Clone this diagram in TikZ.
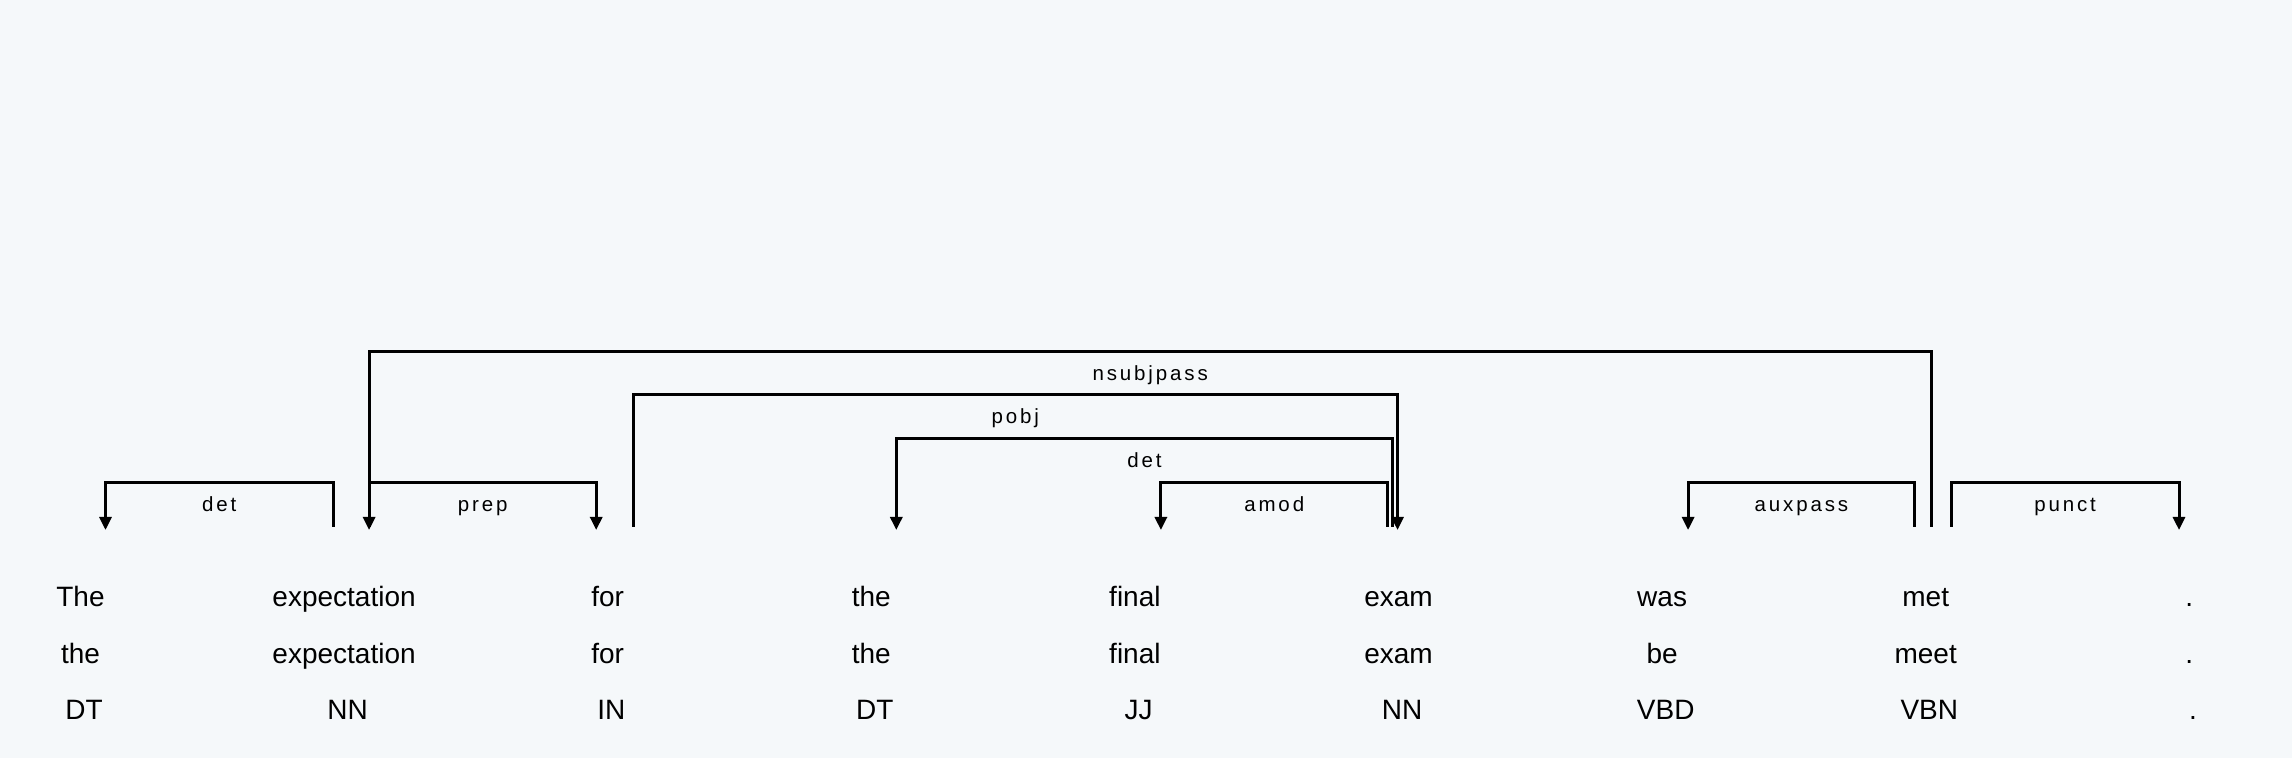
\documentclass[tikz,border=0pt]{standalone}
\usepackage{fontspec}
\setmainfont{Liberation Sans}
\newfontfamily\lblfont{Liberation Sans}[LetterSpace=14]
\usetikzlibrary{arrows.meta,calc}
\definecolor{bgcol}{RGB}{245,248,250}
\newcommand\mydeparc[7]{%
  \coordinate (s#7) at ($(#1.base)+(#2,-80)$);
  \coordinate (e#7) at ($(#3.base)+(#4,-76.7)$);
  \draw[dep,arr] (s#7) -- (s#7 |- 0,#5) -- node[lbl]{#6} (e#7 |- 0,#5) -- (e#7);
}
\begin{document}
\begin{tikzpicture}[x=0.5pt,y=-0.5pt,
  word/.style={anchor=base,inner sep=0pt,font=\fontsize{14}{16}\selectfont},
  dep/.style={line width=1.5pt,line join=miter,line cap=butt},
  arr/.style={-{Triangle[width=6pt,length=6.5pt]}},
  lbl/.style={anchor=base,inner sep=0pt,yshift=-14.5pt,font=\lblfont\fontsize{10.25}{12}\selectfont}]
\fill[bgcol] (0,0) rectangle (2292,758);
\useasboundingbox (0,0) rectangle (2292,758);
\foreach \i/\a/\b/\c in {0/The/the/DT,1/expectation/expectation/NN,2/for/for/IN,3/the/the/DT,4/final/final/JJ,5/exam/exam/NN,6/was/be/VBD,7/met/meet/VBN,8/./././}{
  \node[word] (w\i) at (80.5+263.6*\i,606.7) {\a};
  \node[word] (l\i) at (80.5+263.6*\i,663.3) {\b};
  \node[word] (t\i) at (84.1+263.6*\i,719.3) {\c};
}
\mydeparc{w1}{-11}{w0}{25}{483}{det}{a}
\mydeparc{w1}{25}{w2}{-11.5}{483}{prep}{b}
\mydeparc{w7}{5.5}{w1}{25}{351.2}{nsubjpass}{c}
\mydeparc{w2}{25.3}{w5}{-1}{395}{pobj}{d}
\mydeparc{w5}{-6}{w3}{25}{439}{det}{e}
\mydeparc{w5}{-11}{w4}{26}{483}{amod}{f}
\mydeparc{w7}{-11}{w6}{26}{483}{auxpass}{g}
\mydeparc{w7}{25.5}{w8}{-10.3}{483}{punct}{h}
\end{tikzpicture}
\end{document}
